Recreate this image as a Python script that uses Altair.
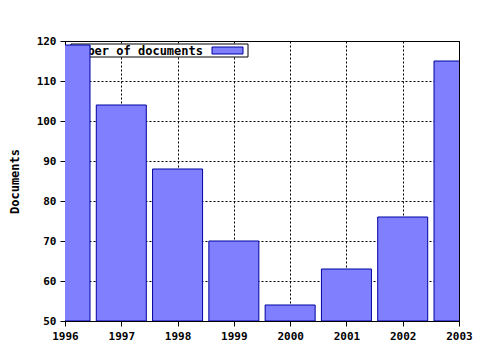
import altair as alt
import pandas as pd

years = [1996, 1997, 1998, 1999, 2000, 2001, 2002, 2003]
documents = [119, 104, 88, 70, 54, 63, 76, 115]
series_name = "Number of documents"
y_title = "Documents"

df = pd.DataFrame({"year": years, "documents": documents})
leg = pd.DataFrame({"label": [series_name]})

FONT = "DejaVu Sans Mono"
FILL = "#8080ff"
EDGE = "#0000a0"

xscale = alt.Scale(domain=[1996, 2003], nice=False, zero=False, padding=0)
yscale = alt.Scale(domain=[50, 120], nice=False, zero=False, padding=0)

xaxis = alt.Axis(values=years, format="d", grid=True, gridColor="black", gridDash=[2, 2],
                 gridOpacity=1, tickColor="black", tickSize=5, domainColor="black",
                 labelFont=FONT, labelFontWeight="bold", labelFontSize=11, labelColor="black",
                 labelPadding=4, labelFlush=False, title=None)
yaxis = alt.Axis(values=[50, 60, 70, 80, 90, 100, 110, 120], grid=True, gridColor="black",
                 gridDash=[2, 2], gridOpacity=1, tickColor="black", tickSize=5,
                 domainColor="black", labelFont=FONT, labelFontWeight="bold", labelFontSize=11,
                 labelColor="black", labelPadding=4, title=y_title, titleFont=FONT,
                 titleFontWeight="bold", titleFontSize=12, titleColor="black", titlePadding=15)

legend_box = alt.Chart(leg).mark_rect(fill="white", stroke="black", strokeWidth=1).encode(
    x=alt.value(6), x2=alt.value(183), y=alt.value(3), y2=alt.value(16))
legend_text = alt.Chart(leg).mark_text(align="right", baseline="middle", font=FONT,
                                       fontWeight="bold", fontSize=12, color="black").encode(
    x=alt.value(138), y=alt.value(10), text="label:N")
legend_swatch = alt.Chart(leg).mark_rect(fill=FILL, stroke=EDGE, strokeWidth=1).encode(
    x=alt.value(147), x2=alt.value(178), y=alt.value(6), y2=alt.value(13))

bars = alt.Chart(df).mark_bar(clip=True, size=50, fill=FILL, stroke=EDGE, strokeWidth=1,
                              opacity=1).encode(
    x=alt.X("year:Q", scale=xscale, axis=xaxis),
    y=alt.Y("documents:Q", scale=yscale, axis=yaxis),
    y2=alt.Y2(datum=50),
)

chart = alt.layer(legend_box, legend_text, legend_swatch, bars).properties(
    width=394, height=280,
    autosize=alt.AutoSizeParams(type="none"),
    padding={"left": 65, "top": 41, "right": 21, "bottom": 29},
    background="white",
).configure_view(stroke="black", strokeWidth=1)

chart.save("out.html", embed_options={"renderer": "svg", "actions": False})
